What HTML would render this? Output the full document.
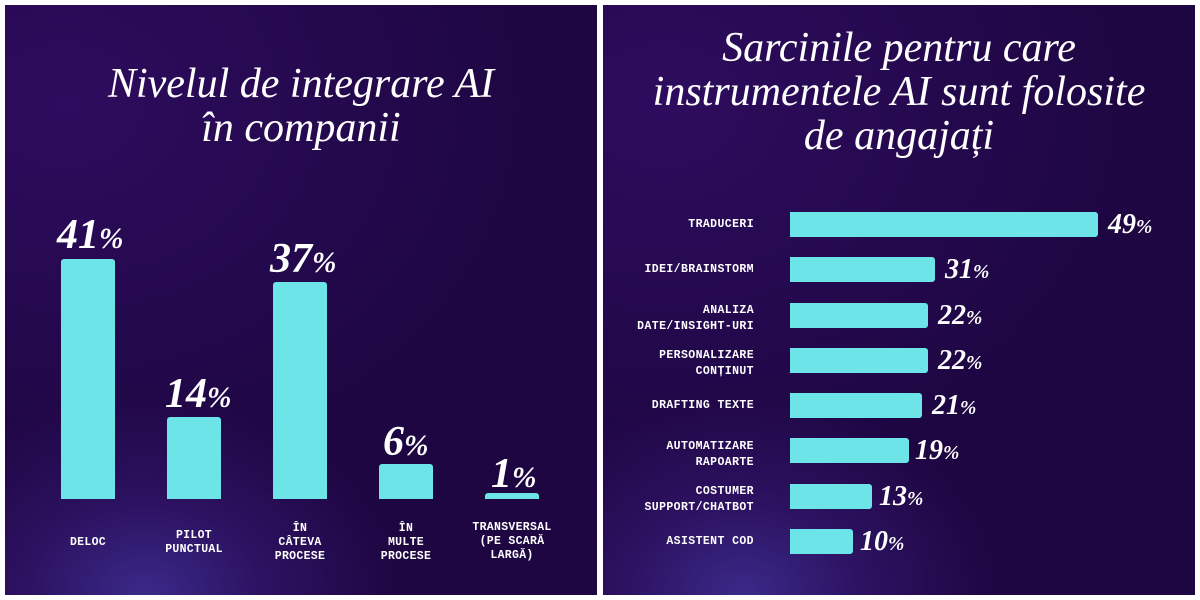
<!DOCTYPE html>
<html><head><meta charset="utf-8"><style>
html,body{margin:0;padding:0;width:1200px;height:600px;background:#fff;overflow:hidden}
.p{position:absolute;top:5px;height:590px;overflow:hidden;
background:radial-gradient(ellipse 260px 200px at 140px 590px,#3b2a8a 0%,rgba(60,30,130,.5) 45%,rgba(30,8,70,0) 100%),
radial-gradient(ellipse 500px 400px at 60px 100px,#2e0c5e 0%,rgba(35,8,70,0) 100%),#1d0641;}
.t{position:absolute;left:0;width:100%;text-align:center;color:#fff;font-family:"Liberation Serif",serif;font-style:italic;font-size:42px;line-height:44px}
.b{position:absolute;background:#6ce4e8;border-radius:3px 3px 0 0}
.hb{position:absolute;background:#6ce4e8;border-radius:0 3px 3px 0;height:25px}
.v{position:absolute;color:#fff;font-family:"Liberation Serif",serif;font-weight:bold;font-style:italic;white-space:nowrap}
.v small{font-size:.7em}
.l{position:absolute;color:#fff;font-family:"Liberation Mono",monospace;font-size:11.5px;line-height:14px;text-align:center;letter-spacing:.3px;font-weight:bold}
.r{position:absolute;right:441px;color:#fff;font-family:"Liberation Mono",monospace;font-size:11.5px;line-height:16px;text-align:right;letter-spacing:.4px;font-weight:bold}
</style></head><body>
<div class="p" style="left:5px;width:592px">
<div class="t" style="top:57px">Nivelul de integrare AI<br>în companii</div>
<div class="b" style="left:56px;width:54px;top:254px;height:240px"></div>
<div class="b" style="left:162px;width:54px;top:412px;height:82px"></div>
<div class="b" style="left:268px;width:54px;top:277px;height:217px"></div>
<div class="b" style="left:374px;width:54px;top:459px;height:35px"></div>
<div class="b" style="left:480px;width:54px;top:488px;height:6px"></div>
<div class="v" style="left:52px;top:206px;font-size:42px">41<small>%</small></div>
<div class="v" style="left:160px;top:365px;font-size:42px">14<small>%</small></div>
<div class="v" style="left:265px;top:230px;font-size:42px">37<small>%</small></div>
<div class="v" style="left:378px;top:413px;font-size:42px">6<small>%</small></div>
<div class="v" style="left:486px;top:445px;font-size:42px">1<small>%</small></div>
<div class="l" style="left:33px;width:100px;top:531px">DELOC</div>
<div class="l" style="left:139px;width:100px;top:524px">PILOT<br>PUNCTUAL</div>
<div class="l" style="left:245px;width:100px;top:517px">ÎN<br>CÂTEVA<br>PROCESE</div>
<div class="l" style="left:351px;width:100px;top:517px">ÎN<br>MULTE<br>PROCESE</div>
<div class="l" style="left:452px;width:110px;top:516px">TRANSVERSAL<br>(PE SCARĂ<br>LARGĂ)</div>
</div>
<div class="p" style="left:603px;width:592px">
<div class="t" style="top:21px">Sarcinile pentru care<br>instrumentele AI sunt folosite<br>de angajați</div>
<div class="hb" style="left:187px;top:207px;width:308px"></div>
<div class="hb" style="left:187px;top:252px;width:145px"></div>
<div class="hb" style="left:187px;top:298px;width:138px"></div>
<div class="hb" style="left:187px;top:343px;width:138px"></div>
<div class="hb" style="left:187px;top:388px;width:132px"></div>
<div class="hb" style="left:187px;top:433px;width:119px"></div>
<div class="hb" style="left:187px;top:479px;width:82px"></div>
<div class="hb" style="left:187px;top:524px;width:63px"></div>
<div class="v" style="left:505px;top:204px;font-size:28px">49<small>%</small></div>
<div class="v" style="left:342px;top:249px;font-size:28px">31<small>%</small></div>
<div class="v" style="left:335px;top:295px;font-size:28px">22<small>%</small></div>
<div class="v" style="left:335px;top:340px;font-size:28px">22<small>%</small></div>
<div class="v" style="left:329px;top:385px;font-size:28px">21<small>%</small></div>
<div class="v" style="left:312px;top:430px;font-size:28px">19<small>%</small></div>
<div class="v" style="left:276px;top:476px;font-size:28px">13<small>%</small></div>
<div class="v" style="left:257px;top:521px;font-size:28px">10<small>%</small></div>
<div class="r" style="top:212px">TRADUCERI</div>
<div class="r" style="top:257px">IDEI/BRAINSTORM</div>
<div class="r" style="top:298px">ANALIZA<br>DATE/INSIGHT-URI</div>
<div class="r" style="top:343px">PERSONALIZARE<br>CONȚINUT</div>
<div class="r" style="top:393px">DRAFTING TEXTE</div>
<div class="r" style="top:434px">AUTOMATIZARE<br>RAPOARTE</div>
<div class="r" style="top:479px">COSTUMER<br>SUPPORT/CHATBOT</div>
<div class="r" style="top:529px">ASISTENT COD</div>
</div>
</body></html>
